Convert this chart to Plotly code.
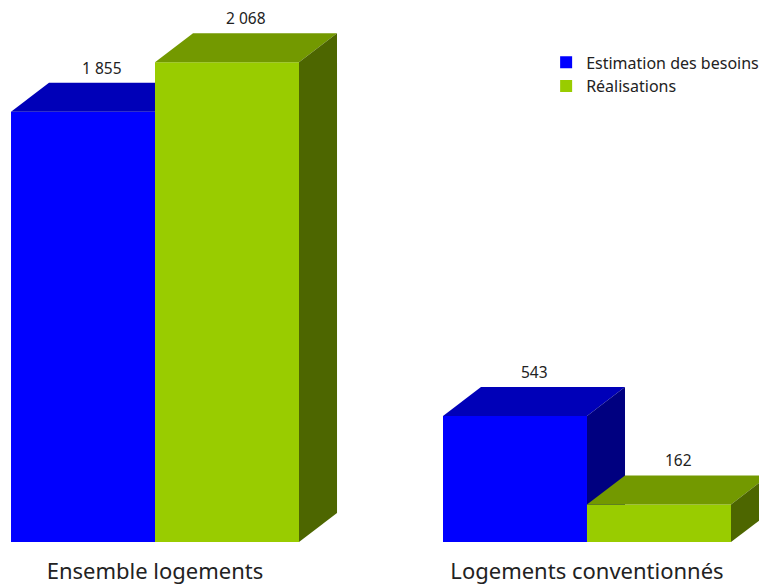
import plotly.graph_objects as go

categories = ["Ensemble logements", "Logements conventionnés"]
series_names = ["Estimation des besoins", "Réalisations"]
besoins = [1855, 543]
realisations = [2068, 162]
value_labels = [["1 855", "543"], ["2 068", "162"]]

# front / top / side colours for each series
FACES = [
    ("#0000FF", "#0000B8", "#000080"),
    ("#99CC00", "#739900", "#4D6600"),
]

FONT = "Noto Sans"
BAR_W = 1 / 3        # width of each bar in category units
DX = 0.088           # depth offset in category units
DY = 125             # depth offset in value units


def add_box(fig, xl, xr, v, colors):
    front, top, side = colors
    polys = [
        (front, [xl, xr, xr, xl, xl], [0, 0, v, v, 0]),
        (top, [xl, xr, xr + DX, xl + DX, xl], [v, v, v + DY, v + DY, v]),
        (side, [xr, xr + DX, xr + DX, xr, xr], [0, DY, v + DY, v, 0]),
    ]
    for color, xs, ys in polys:
        fig.add_trace(
            go.Scatter(
                x=xs,
                y=ys,
                fill="toself",
                fillcolor=color,
                mode="lines",
                line=dict(width=0),
                hoverinfo="skip",
                showlegend=False,
            )
        )


fig = go.Figure()

annotations = []
for i, cat in enumerate(categories):
    for s, values in enumerate([besoins, realisations]):
        xl = i - BAR_W + s * BAR_W
        xr = xl + BAR_W
        add_box(fig, xl, xr, values[i], FACES[s])
        annotations.append(
            dict(
                x=(xl + xr) / 2 + DX / 2,
                y=values[i] + DY,
                text=value_labels[s][i],
                showarrow=False,
                yanchor="bottom",
                yshift=2,
                font=dict(size=15.5, color="#222222", family=FONT),
            )
        )

# legend entries
for s, name in enumerate(series_names):
    fig.add_trace(
        go.Scatter(
            x=[None],
            y=[None],
            mode="markers",
            marker=dict(symbol="square", size=12, color=FACES[s][0]),
            name=name,
        )
    )

fig.update_layout(
    width=759,
    height=576,
    margin=dict(l=0, r=0, t=0, b=42),
    plot_bgcolor="white",
    paper_bgcolor="white",
    font=dict(family=FONT, color="#222222"),
    xaxis=dict(
        range=[-0.3403, 1.4167],
        tickvals=[0, 1],
        ticktext=categories,
        tickfont=dict(size=22, family=FONT, color="#222222"),
        showgrid=False,
        zeroline=False,
        showline=False,
        ticks="",
        ticklabelstandoff=14,
    ),
    yaxis=dict(range=[0, 2302], visible=False),
    legend=dict(
        x=0.709,
        y=0.93,
        xanchor="left",
        yanchor="top",
        font=dict(size=16, family=FONT, color="#222222"),
        itemwidth=30,
        tracegroupgap=3,
        bgcolor="rgba(0,0,0,0)",
    ),
    annotations=annotations,
)

fig.write_html("out.html")
